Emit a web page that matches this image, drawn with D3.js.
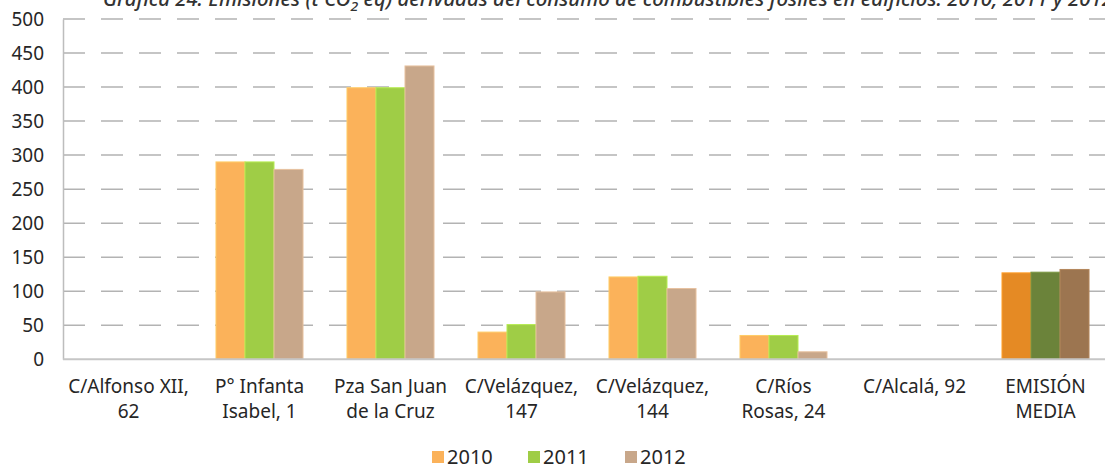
<!DOCTYPE html>
<html>
<head>
<meta charset="utf-8">
<script src="https://cdn.jsdelivr.net/npm/d3@7"></script>
<style>
  body { margin: 0; background: #fff; }
  text { font-family: "Noto Sans", sans-serif; fill: #262626; }
</style>
</head>
<body>
<div id="chart"></div>
<script>
(function() {

  const categories = [
    ['C/Alfonso XII,', '62'],
    ['P° Infanta', 'Isabel, 1'],
    ['Pza San Juan', 'de la Cruz'],
    ['C/Velázquez,', '147'],
    ['C/Velázquez,', '144'],
    ['C/Ríos', 'Rosas, 24'],
    ['C/Alcalá, 92'],
    ['EMISIÓN', 'MEDIA']
  ];
  const years = ['2010', '2011', '2012'];
  const values2010 = [0, 290, 399, 40, 121, 35, 0, 127];
  const values2011 = [0, 290, 399, 51, 122, 35, 0, 128];
  const values2012 = [0, 279, 431, 99, 104, 11, 0, 132];
  const yTicks = [0, 50, 100, 150, 200, 250, 300, 350, 400, 450, 500];

  const colors = ['#fbb25a', '#9fcd46', '#c8a78a'];
  const avgColors = ['#e58a24', '#6b833a', '#9c7550'];

  const size = { x: 1105, y: 466 };
  const plot = { left: 63, right: 1111, top: 19, bottom: 359.3 };

  let svg = d3.select('#chart')
    .append('svg')
    .attr('width', size.x)
    .attr('height', size.y);

  // title, partly cut off at the top like in the source
  let title = svg.append('text')
    .attr('x', 103)
    .attr('y', 6)
    .style('font-style', 'italic')
    .style('font-weight', '500')
    .style('font-size', '19px')
    .style('fill', '#333')
    .attr('textLength', 1010)
    .attr('lengthAdjust', 'spacingAndGlyphs');
  title.append('tspan').text('Gráfica 24. Emisiones (t CO');
  title.append('tspan').attr('dy', 5).style('font-size', '13px').text('2');
  title.append('tspan').attr('dy', -5).text(' eq) derivadas del consumo de combustibles fósiles en edificios. 2010, 2011 y 2012');

  let xScale = d3.scaleBand()
    .domain(d3.range(categories.length))
    .range([plot.left, plot.right]);

  let xInner = d3.scaleBand()
    .domain(years)
    .range([0, xScale.bandwidth()])
    .paddingInner(0)
    .paddingOuter(0.758);

  let yScale = d3.scaleLinear()
    .domain([0, 500])
    .range([plot.bottom, plot.top]);

  // dashed gridlines
  svg.append('g')
    .selectAll('line')
    .data(yTicks.filter(d => d > 0))
    .enter()
    .append('line')
      .attr('x1', plot.left)
      .attr('x2', size.x)
      .attr('y1', d => yScale(d))
      .attr('y2', d => yScale(d))
      .attr('stroke', '#b3b3b3')
      .attr('stroke-width', 1.5)
      .attr('stroke-dasharray', '22,16');

  // y axis
  let yAxis = svg.append('g')
    .attr('transform', `translate(${plot.left}, 0)`)
    .call(d3.axisLeft(yScale).tickValues(yTicks).tickSize(0).tickPadding(19));
  yAxis.select('.domain')
    .attr('stroke', '#bdbdbd')
    .attr('stroke-width', 1.5);
  yAxis.selectAll('text')
    .style('font-size', '19px')
    .style('font-family', '"Noto Sans", sans-serif')
    .attr('fill', '#262626');

  const series = [values2010, values2011, values2012];

  let groups = svg.append('g')
    .selectAll('.group')
    .data(categories)
    .enter()
    .append('g')
      .attr('class', 'group')
      .attr('transform', (d, i) => `translate(${xScale(i)}, 0)`);

  groups.each(function(d, i) {
    const last = i === categories.length - 1;
    d3.select(this).selectAll('rect')
      .data(years.map((y, k) => ({ year: y, k: k, value: series[k][i] })))
      .enter()
      .append('rect')
        .attr('x', e => xInner(e.year))
        .attr('width', xInner.bandwidth())
        .attr('y', e => yScale(e.value))
        .attr('height', e => yScale(0) - yScale(e.value))
        .attr('fill', e => last ? avgColors[e.k] : colors[e.k])
        .attr('stroke', e => d3.color(last ? avgColors[e.k] : colors[e.k]).brighter(0.4))
        .attr('stroke-width', 1);

    let label = d3.select(this).append('text')
      .attr('x', xScale.bandwidth() / 2)
      .attr('y', 393)
      .attr('text-anchor', 'middle')
      .style('font-size', '19px');
    d.forEach((line, j) => {
      label.append('tspan')
        .attr('x', xScale.bandwidth() / 2)
        .attr('dy', j === 0 ? 0 : 25)
        .text(line);
    });
  });

  // baseline
  svg.append('line')
    .attr('x1', plot.left)
    .attr('x2', size.x)
    .attr('y1', yScale(0))
    .attr('y2', yScale(0))
    .attr('stroke', '#c6c6c6')
    .attr('stroke-width', 2);

  // legend
  const legendX = [432, 528, 625];
  let legend = svg.append('g')
    .selectAll('.legend')
    .data(years)
    .enter()
    .append('g')
      .attr('class', 'legend')
      .attr('transform', (d, i) => `translate(${legendX[i]}, 450)`);
  legend.append('rect')
    .attr('width', 12)
    .attr('height', 12)
    .attr('y', 1)
    .attr('fill', (d, i) => colors[i]);
  legend.append('text')
    .attr('x', 15)
    .attr('y', 14)
    .style('font-size', '20px')
    .text(d => d);
}());
</script>
</body>
</html>
